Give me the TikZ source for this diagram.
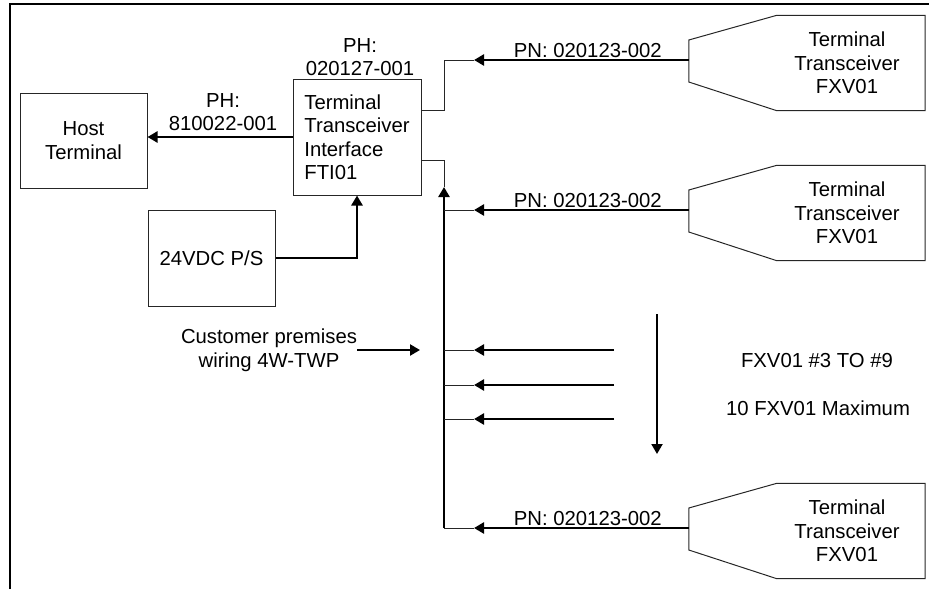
\documentclass[tikz,border=0pt]{standalone}
\usepackage{fontspec}
\setmainfont{Liberation Sans}
\usetikzlibrary{arrows.meta,calc}
\newcommand\pentshape[1]{\draw[thinline] ($(#1.west)+(0,-23)$) -- ($(#1.north west)+(88,0)$) -- (#1.north east) -- (#1.south east) -- ($(#1.south west)+(88,0)$) -- ($(#1.west)+(0,19)$) -- cycle;}
\begin{document}
\begin{tikzpicture}[x=1pt,y=-1pt,
 every node/.style={font=\fontsize{20.3}{23.5}\selectfont},
 box/.style={draw=black!85,line width=1pt,minimum width=127pt,minimum height=95pt,inner sep=0pt},
 thinline/.style={draw=black!85,line width=1pt},
 bus/.style={line width=2.6pt,-{Triangle[length=10pt,width=11pt]}},
 pent/.style={minimum width=236pt,minimum height=95pt,inner sep=0pt},
 txt/.style={align=center,inner sep=0pt},
 pn/.style={pos=0.47,above=1.5pt,inner sep=0pt}]
\useasboundingbox (0,0) rectangle (929,589);
\draw[line width=1.2pt] (10,589) -- (10,4) -- (929,4);

% boxes
\node[box,align=center] (host) at (83.5,140.5) {Host\\Terminal};
\node[box,minimum width=128pt,minimum height=116pt,align=left] (fti) at (357,137) {Terminal\\Transceiver\\Interface\\FTI01};
\node[box,minimum height=96pt] (psu) at (211.5,258) {24VDC P/S};
\node[txt] (ftilab) at (360,57) {PH:\\020127-001};
\node[txt] (hostlab) at (223,112) {PH:\\810022-001};

% transceivers
\node[pent] (p1) at (807,63) {};
\node[pent] (p2) at (807,213) {};
\node[pent] (p3) at (807,531) {};
\pentshape{p1}
\pentshape{p2}
\pentshape{p3}
\node[txt] (p1t) at ($(p1)+(40,0)$) {Terminal\\Transceiver\\FXV01};
\node[txt] (p2t) at ($(p2)+(40,0)$) {Terminal\\Transceiver\\FXV01};
\node[txt] (p3t) at ($(p3)+(40,0)$) {Terminal\\Transceiver\\FXV01};

% host and power connections
\draw[bus] (fti.west) -- (fti.west -| host.east);
\draw[bus] (psu.east) -| (fti.south);

% first transceiver
\coordinate (a1) at (474,60);
\draw[thinline] ($(fti.east)+(0,-27)$) -| ($(a1)+(-30,0)$) -- (a1);
\draw[bus] ($(p1.west)+(0,-3)$) -- node[pn]{PN: 020123-002} (a1);

% bus
\coordinate (bt) at (444,187);
\coordinate (bb) at (444,528);
\draw[thinline] ($(fti.east)+(0,23)$) -| (bt);
\draw[bus] (bb) -- (bt);

\coordinate (a2) at (474,210);
\coordinate (a3) at (474,350);
\coordinate (a4) at (474,385);
\coordinate (a5) at (474,419);
\coordinate (a6) at (474,528);
\foreach \a in {a2,a3,a4,a5,a6}{\draw[thinline] ($(\a)+(-30,0)$) -- (\a);}
\draw[bus] ($(p2.west)+(0,-3)$) -- node[pn]{PN: 020123-002} (a2);
\draw[bus] ($(p3.west)+(0,-3)$) -- node[pn]{PN: 020123-002} (a6);
\coordinate (s3) at (614,350);
\coordinate (s4) at (614,385);
\coordinate (s5) at (614,419);
\draw[bus] (s3) -- (a3);
\draw[bus] (s4) -- (a4);
\draw[bus] (s5) -- (a5);

% customer wiring
\node[txt] (cust) at (269,350) {Customer premises\\wiring 4W-TWP};
\coordinate (c2) at (420,351);
\draw[bus,line width=2.3pt] (cust.east) -- (cust.east -| c2);

% more transceivers
\coordinate (d1) at (657,314);
\coordinate (d2) at (657,454);
\draw[bus,line width=2pt] (d1) -- (d2);
\node[txt] (more) at (817,361) {FXV01 \#3 TO \#9};
\node[txt] (max) at (818,408) {10 FXV01 Maximum};
\end{tikzpicture}
\end{document}
